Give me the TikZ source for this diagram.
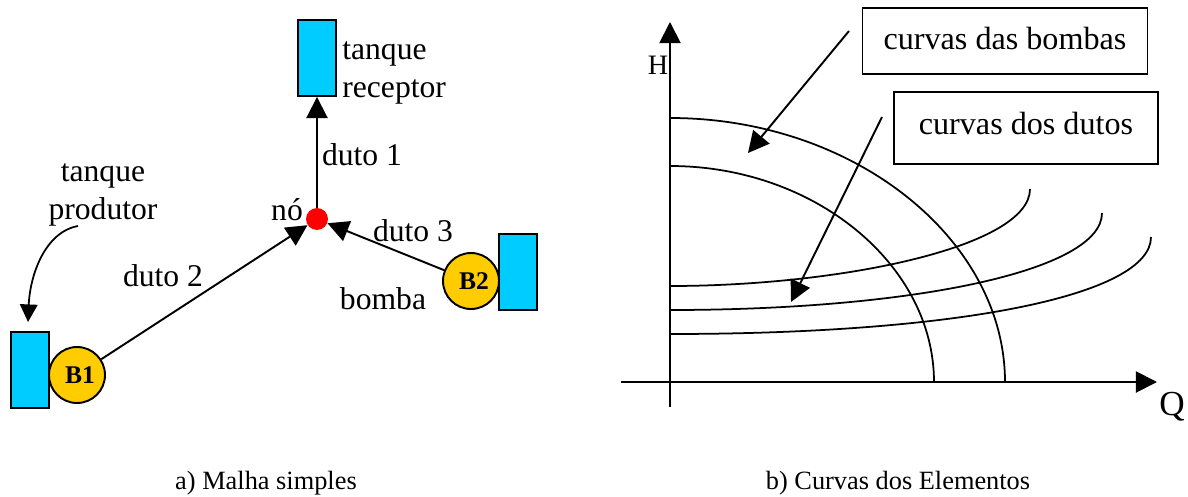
\documentclass[tikz,border=0pt]{standalone}
\usepackage{fontspec}
\setmainfont{Liberation Serif}
\usetikzlibrary{arrows.meta}
\definecolor{tanqueazul}{HTML}{00CCFF}
\definecolor{bombaouro}{HTML}{FFCC00}
\tikzset{
  tanque/.style={draw=black, line width=1.1pt, fill=tanqueazul, minimum width=0.75cm, minimum height=1.52cm, inner sep=0pt},
  bomba/.style={circle, draw=black, line width=1.1pt, fill=bombaouro, minimum size=1.12cm, inner sep=0pt, font=\fontsize{14.5}{16}\selectfont\bfseries},
  rotulo/.style={inner sep=0pt, align=center, font=\fontsize{18}{22}\selectfont},
  legenda/.style={inner sep=0pt, font=\fontsize{15}{18}\selectfont},
  caixa/.style={draw=black, line width=1pt, inner sep=0pt, font=\fontsize{18.3}{22}\selectfont},
  duto/.style={line width=1.1pt, -{Triangle[length=12pt,width=12pt]}},
  curva/.style={line width=1pt}
}
\begin{document}
\begin{tikzpicture}[x=0.02cm,y=-0.02cm]
  \useasboundingbox (0,0) rectangle (1188,497);
  \node[tanque] (receptor) at (317,58) {};
  \node[tanque] (produtor) at (30,370) {};
  \node[tanque] (tanqueb) at (518,272) {};
  \node[bomba] (b1) at (77,375) {\hspace{0.12cm}B1};
  \node[bomba] (b2) at (471,281) {\hspace{0.12cm}B2};
  \node[circle, fill=red, minimum size=0.44cm, inner sep=0pt] (no) at (317,219) {};
  \draw[duto] (no) -- (receptor.south);
  \draw[duto] (b1) -- (no);
  \draw[duto] (b2) -- (no);
  \node[rotulo, anchor=west, align=left] (lblreceptor) at (342,73) {tanque\\receptor};
  \node[rotulo] (lblprodutor) at (103,195) {tanque\\produtor};
  \node[rotulo] (lblduto1) at (362,155) {duto 1};
  \node[rotulo] (lblduto2) at (163,276) {duto 2};
  \node[rotulo] (lblduto3) at (413,231) {duto 3};
  \node[rotulo] (lblno) at (287,210) {nó};
  \node[rotulo] (lblbomba) at (383,299) {bomba};
  \coordinate (cauda) at (78,226);
  \coordinate (ponta) at (28,322);
  \draw[line width=1pt, -{Triangle[length=10pt,width=10pt]}] (cauda) .. controls (45,232) and (30,275) .. (ponta);
  \node[legenda] (capa) at (266,483) {a) Malha simples};
  \node[legenda] (capb) at (898,483) {b) Curvas dos Elementos};
  % curvas
  \coordinate (qini) at (621,382);
  \coordinate (qfim) at (1157,382);
  \coordinate (hini) at (670,407);
  \coordinate (hfim) at (670,22);
  \draw[duto] (qini) -- (qfim);
  \draw[duto] (hini) -- (hfim);
  \node[rotulo, font=\fontsize{16}{19}\selectfont] (lblh) at (658,65) {H};
  \node[rotulo, font=\fontsize{20}{24}\selectfont] (lblq) at (1172,407) {Q};
  \draw[curva] (670,118) .. controls (855,118) and (1005,240) .. (1005,382);
  \draw[curva] (670,166) .. controls (815,166) and (934,265) .. (934,382);
  \foreach \yi/\xf/\yf in {286/1030/189,310/1102/213,334/1151/237}{
    \draw[curva] (670,\yi) .. controls ({\xf-190},\yi) and (\xf,{\yf+58}) .. (\xf,\yf);
  }
  \node[caixa, minimum width=5.7cm, minimum height=1.32cm] (bombas) at (1005,41) {\raisebox{0.12cm}{curvas das bombas}};
  \node[caixa, minimum width=5.28cm, minimum height=1.44cm] (dutos) at (1026,128) {\raisebox{0.2cm}{curvas dos dutos}};
  \coordinate (sbombas) at (849,31);
  \coordinate (tbombas) at (748,153);
  \coordinate (sdutos) at (882,117);
  \coordinate (tdutos) at (791,302);
  \draw[duto] (sbombas) -- (tbombas);
  \draw[duto] (sdutos) -- (tdutos);
\end{tikzpicture}
\end{document}
